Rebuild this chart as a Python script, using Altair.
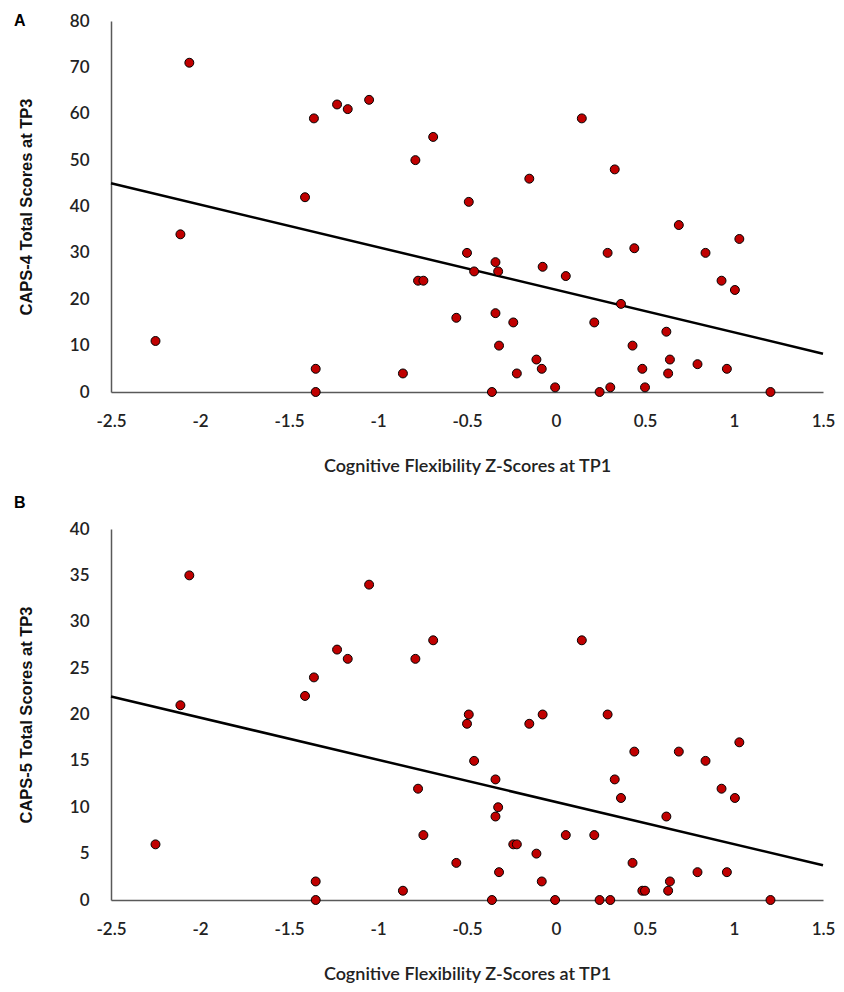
import altair as alt
import pandas as pd

# Cognitive flexibility z-scores at TP1 (same participants in both panels)
z_tp1 = [-2.06, -2.25, -2.11, -1.41, -1.36, -1.23, -1.17, -1.05, -0.79, -0.69,
         -0.49, -0.50, -0.46, -0.34, -0.325, -0.34, -0.32, -0.775, -0.745, -0.56,
         -0.24, -0.22, -0.11, -0.08, -0.86, -1.35, -1.35, -0.36, -0.005, -0.075,
         0.055, -0.15, 0.145, 0.33, 0.29, 0.44, 0.365, 0.215, 0.43, 0.485,
         0.50, 0.305, 0.245, 0.69, 0.84, 1.03, 0.93, 1.005, 0.62, 0.64,
         0.63, 0.795, 0.96, 1.205]

# CAPS-4 total scores at TP3 (panel A)
caps4_tp3 = [71, 11, 34, 42, 59, 62, 61, 63, 50, 55,
             41, 30, 26, 28, 26, 17, 10, 24, 24, 16,
             15, 4, 7, 5, 4, 5, 0, 0, 1, 27,
             25, 46, 59, 48, 30, 31, 19, 15, 10, 5,
             1, 1, 0, 36, 30, 33, 24, 22, 13, 7,
             4, 6, 5, 0]

# CAPS-5 total scores at TP3 (panel B)
caps5_tp3 = [35, 6, 21, 22, 24, 27, 26, 34, 26, 28,
             20, 19, 15, 13, 10, 9, 3, 12, 7, 4,
             6, 6, 5, 2, 1, 2, 0, 0, 0, 20,
             7, 19, 28, 13, 20, 16, 11, 7, 4, 1,
             1, 0, 0, 16, 15, 17, 12, 11, 9, 2,
             1, 3, 3, 0]

panel_letters = ["A", "B"]
y_titles = ["CAPS-4 Total Scores at TP3", "CAPS-5 Total Scores at TP3"]
y_max = [80, 40]
y_step = [10, 5]
x_title = "Cognitive Flexibility Z-Scores at TP1"
x_ticks = [-2.5, -2, -1.5, -1, -0.5, 0, 0.5, 1, 1.5]

df = pd.DataFrame({"z": z_tp1, "caps4": caps4_tp3, "caps5": caps5_tp3})

W, H = 712, 371
RED = "#c00000"


def panel(ycol, letter, ytitle, ymax, ystep, letter_y):
    xenc = alt.X(
        "z:Q",
        scale=alt.Scale(domain=[-2.5, 1.5], nice=False, zero=False),
        axis=alt.Axis(
            values=x_ticks,
            labelExpr="'' + datum.value",
            labelFlush=False,
            title=x_title,
            titleX=W / 2,
            titleY=74,
            titleBaseline="middle",
            labelPadding=21,
        ),
    )
    yenc = alt.Y(
        f"{ycol}:Q",
        scale=alt.Scale(domain=[0, ymax], nice=False),
        axis=alt.Axis(
            values=list(range(0, ymax + 1, ystep)),
            title=ytitle,
            titleX=-85,
            titleY=H / 2,
            titleBaseline="middle",
            titleFont="Liberation Sans",
            titleFontWeight="bold",
            titleFontSize=16.5,
            titleColor="#111111",
            labelPadding=22,
        ),
    )
    base = alt.Chart(df)
    line = (
        base.transform_regression("z", ycol, extent=[-2.5, 1.5])
        .mark_line(color="black", strokeWidth=2.5)
        .encode(x=alt.X("z:Q"), y=alt.Y(f"{ycol}:Q"))
    )
    pts = base.mark_circle(
        color=RED, opacity=1, size=80, stroke="black", strokeWidth=1
    ).encode(x=xenc, y=yenc)
    lab = (
        alt.Chart(pd.DataFrame({"t": [letter]}))
        .mark_text(
            font="Liberation Sans",
            fontWeight="bold",
            fontSize=16,
            color="black",
            align="left",
            baseline="middle",
        )
        .encode(text="t:N", x=alt.value(-97), y=alt.value(letter_y))
    )
    return alt.layer(line, pts, lab).properties(width=W, height=H)


chartA = panel("caps4", panel_letters[0], y_titles[0], y_max[0], y_step[0], 0)
chartB = panel("caps5", panel_letters[1], y_titles[1], y_max[1], y_step[1], -26)

chart = (
    alt.vconcat(chartA, chartB, spacing=20)
    .properties(padding={"left": 6, "top": 4, "right": 0, "bottom": 0})
    .configure_view(strokeWidth=0)
    .configure_axis(
        grid=False,
        ticks=False,
        tickSize=0,
        domainColor="#595959",
        domainWidth=1.5,
        labelFont="Lato",
        labelFontSize=17,
        labelFontWeight=600,
        labelColor="#222222",
        titleFont="Lato",
        titleFontSize=18,
        titleFontWeight=600,
        titleColor="#222222",
    )
)

chart.save("out.html", embed_options={"renderer": "svg", "actions": False})
